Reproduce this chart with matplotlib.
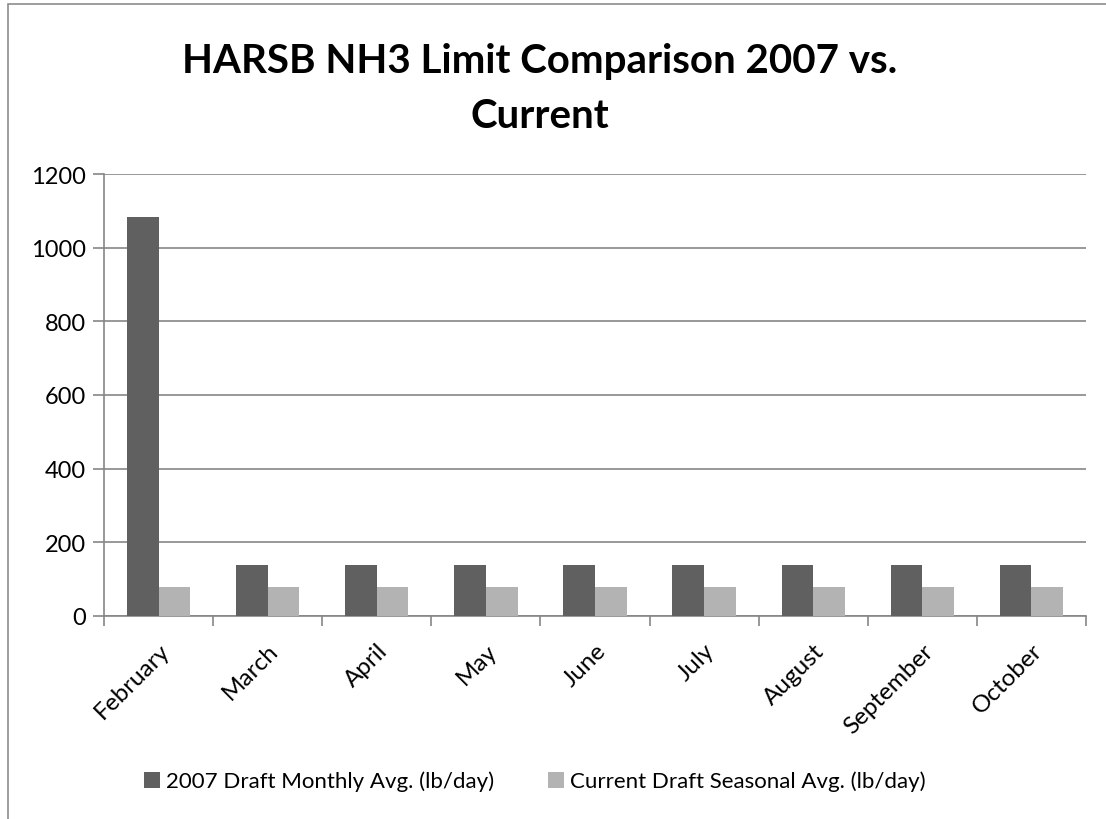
import numpy as np
import matplotlib.pyplot as plt
from matplotlib.patches import Rectangle

months = ['February', 'March', 'April', 'May', 'June', 'July', 'August', 'September', 'October']
draft_2007 = [1083, 139, 139, 139, 139, 139, 139, 139, 139]
current_draft = [79, 79, 79, 79, 79, 79, 79, 79, 79]
yticks = [0, 200, 400, 600, 800, 1000, 1200]

plt.rcParams['font.family'] = ['Lato', 'DejaVu Sans']

fig = plt.figure(figsize=(11.06, 8.2), dpi=100)
ax = fig.add_axes([104 / 1106, 1 - 617 / 820, 982 / 1106, 442 / 820])

# outer chart frame (cropped on right / bottom)
fig.patches.append(Rectangle((8 / 1106, -0.1), 1.2, 1 - 5 / 820 + 0.1,
                             transform=fig.transFigure, fill=False,
                             edgecolor='#8c8c8c', linewidth=1.2))

x = np.arange(len(months))
w = 0.29
ax.bar(x - w / 2, draft_2007, w, color='#606060', label='2007 Draft Monthly Avg. (lb/day)', zorder=3)
ax.bar(x + w / 2, current_draft, w, color='#b3b3b3', label='Current Draft Seasonal Avg. (lb/day)', zorder=3)

ax.set_xlim(-0.5, len(months) - 0.5)
ax.set_ylim(0, 1200)
ax.set_yticks(yticks)
ax.set_yticklabels([str(v) for v in yticks], fontsize=17)
ax.yaxis.grid(True, color='#868686', linewidth=1.2, zorder=0)

# month labels on the category centres, ticks on the category edges
ax.set_xticks(x)
ax.set_xticklabels(months, rotation=45, ha='right', va='top', fontsize=17.5, rotation_mode='anchor')
ax.set_xticks(np.arange(len(months) + 1) - 0.5, minor=True)
ax.tick_params(axis='x', which='major', length=0, pad=17)
ax.tick_params(axis='x', which='minor', length=7, width=1.2, color='#868686', direction='out')
ax.tick_params(axis='y', length=8, width=1.2, color='#868686', direction='out', pad=5)

for s in ['top', 'right']:
    ax.spines[s].set_visible(False)
for s in ['left', 'bottom']:
    ax.spines[s].set_color('#868686')
    ax.spines[s].set_linewidth(1.2)

fig.text(0.488, 1 - 62 / 820, 'HARSB NH3 Limit Comparison 2007 vs.', ha='center', va='center',
         fontsize=29, fontweight='bold')
fig.text(0.488, 1 - 117 / 820, 'Current', ha='center', va='center',
         fontsize=29, fontweight='bold')

fig.legend(loc='center', bbox_to_anchor=(535 / 1106, 1 - 782 / 820), ncol=2, frameon=False,
           fontsize=16, handlelength=0.73, handleheight=0.73, handletextpad=0.27, columnspacing=2.4)

fig.savefig('out.png', dpi=100)
